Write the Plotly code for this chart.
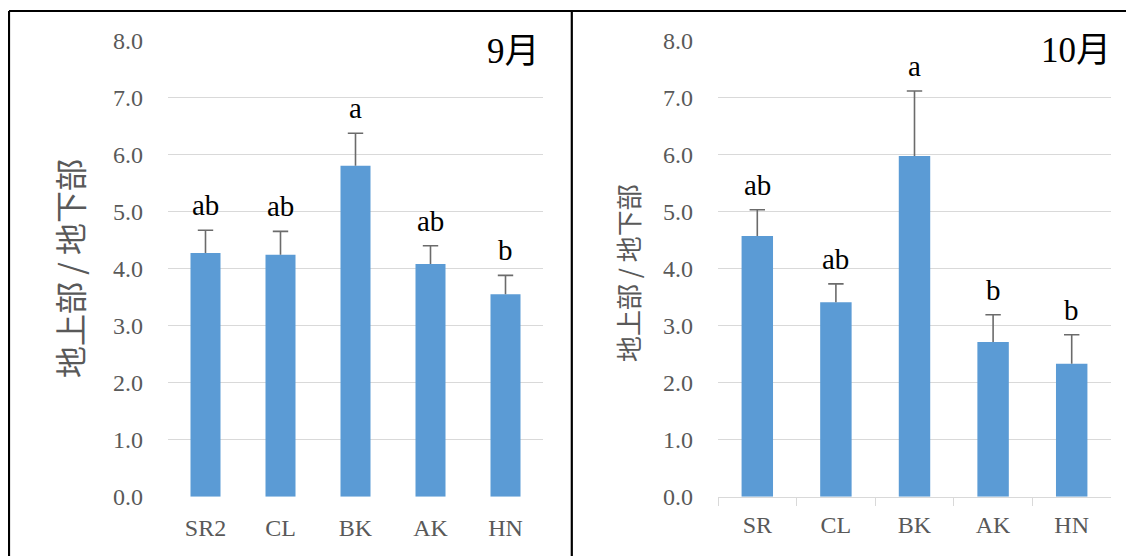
import plotly.graph_objects as go

# ---- data ----
cats_sep = ["SR2", "CL", "BK", "AK", "HN"]
vals_sep = [4.27, 4.24, 5.80, 4.08, 3.55]
err_sep = [0.40, 0.41, 0.57, 0.32, 0.33]
sig_sep = ["ab", "ab", "a", "ab", "b"]

cats_oct = ["SR", "CL", "BK", "AK", "HN"]
vals_oct = [4.57, 3.41, 5.97, 2.71, 2.33]
err_oct = [0.46, 0.32, 1.14, 0.48, 0.51]
sig_oct = ["ab", "ab", "a", "b", "b"]

month_labels = ["9月", "10月"]
y_title = "地上部 / 地下部"
y_ticks = [0, 1, 2, 3, 4, 5, 6, 7, 8]

W, H = 1134, 556
OFF = 8  # page body margin: screen px = paper px + OFF


def px(xs):
    return (xs - OFF) / W


def py(ys):
    return 1 - (ys - OFF) / H


BAR = "#5b9bd5"
GRID = "#d9d9d9"
TXT = "#595959"
ERR = "#6b6b6b"
SERIF = "Liberation Serif, Times New Roman, serif"
CJK = "Liberation Serif, Noto Sans CJK JP, serif"

fig = go.Figure()

panels = [
    (cats_sep, vals_sep, err_sep, sig_sep, "x", "y"),
    (cats_oct, vals_oct, err_oct, sig_oct, "x2", "y2"),
]

for cats, vals, errs, sig, xa, ya in panels:
    fig.add_trace(go.Bar(
        x=cats, y=vals, xaxis=xa, yaxis=ya,
        marker=dict(color=BAR, line=dict(width=0)),
        error_y=dict(type="data", symmetric=False, array=errs,
                     arrayminus=[0] * len(errs), color=ERR,
                     thickness=1.6, width=0),
        showlegend=False,
    ))
    tops = [v + e for v, e in zip(vals, errs)]
    # caps of the error bars
    fig.add_trace(go.Scatter(
        x=cats, y=tops, xaxis=xa, yaxis=ya, mode="markers",
        marker=dict(symbol="line-ew", size=11, color=ERR,
                    line=dict(color=ERR, width=1.6)),
        showlegend=False, hoverinfo="skip",
    ))
    for c, t, s in zip(cats, tops, sig):
        fig.add_annotation(
            x=c, y=t, xref=xa, yref=ya, text=s, showarrow=False,
            yanchor="bottom", yshift=7,
            font=dict(family=SERIF, size=29, color="#000000"),
        )

y_dom = [py(496.7), py(40.3)]

common_y = dict(range=[0, 8], tickvals=y_ticks, tickformat=".1f",
                showgrid=True, gridcolor=GRID, gridwidth=1,
                zeroline=False, showline=False, ticks="",
                ticklabelstandoff=24, automargin=False,
                tickfont=dict(family=SERIF, size=24, color=TXT),
                domain=y_dom)

fig.update_layout(
    width=W, height=H,
    margin=dict(l=0, r=0, t=0, b=0, autoexpand=False),
    paper_bgcolor="white", plot_bgcolor="white",
    bargap=0.6,
    xaxis=dict(domain=[px(168), px(543)], showgrid=False, zeroline=False,
               showline=False, ticks="", ticklabelstandoff=14,
               automargin=False,
               tickfont=dict(family=SERIF, size=24, color=TXT),
               anchor="y"),
    yaxis=dict(anchor="x", **common_y),
    xaxis2=dict(domain=[px(718), px(1111)], showgrid=False, zeroline=False,
                showline=True, linecolor=GRID, linewidth=1.3,
                ticks="outside", tickson="boundaries", ticklen=8,
                tickcolor=GRID, tickwidth=1.3, ticklabelstandoff=6,
                automargin=False,
                tickfont=dict(family=SERIF, size=24, color=TXT),
                anchor="y2"),
    yaxis2=dict(anchor="x2", **common_y),
)

# month labels
fig.add_annotation(x=px(542), y=py(52), xref="paper", yref="paper",
                   text=month_labels[0], showarrow=False, xanchor="right",
                   yanchor="middle", font=dict(family=CJK, size=35, color="#000000"))
fig.add_annotation(x=px(1113), y=py(51), xref="paper", yref="paper",
                   text=month_labels[1], showarrow=False, xanchor="right",
                   yanchor="middle", font=dict(family=CJK, size=35, color="#000000"))

# y-axis titles
fig.add_annotation(x=px(69), y=py(269), xref="paper", yref="paper",
                   text=y_title, showarrow=False, textangle=-90,
                   xanchor="center", yanchor="middle",
                   font=dict(family="Noto Sans CJK JP", size=32, color=TXT))
fig.add_annotation(x=px(628), y=py(273), xref="paper", yref="paper",
                   text=y_title, showarrow=False, textangle=-90,
                   xanchor="center", yanchor="middle",
                   font=dict(family="Noto Sans CJK JP", size=26, color=TXT))

# panel borders
top = py(11)
for x0, y0, x1, y1 in [
    (px(9), 0, px(9), top),
    (px(9), top, 1, top),
    (px(571.8), 0, px(571.8), top),
]:
    fig.add_shape(type="line", xref="paper", yref="paper",
                  x0=x0, y0=y0, x1=x1, y1=y1,
                  line=dict(color="#000000", width=2.2))

fig.write_html("out.html")
